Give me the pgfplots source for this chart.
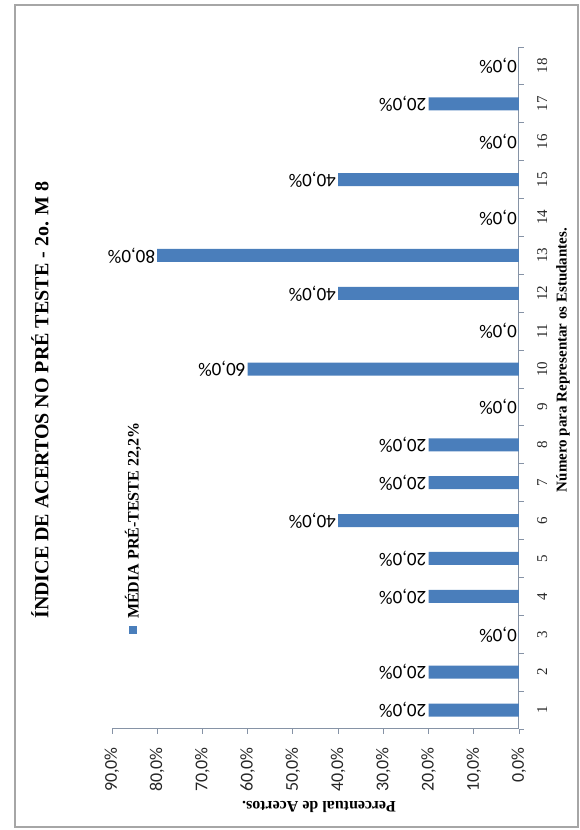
\documentclass[border=0pt]{standalone}
\usepackage{fontspec}
\setmainfont{Liberation Serif}
\newfontfamily\carlito{Carlito}
\usepackage{pgfplots}
\pgfplotsset{compat=1.18}
\definecolor{barblue}{HTML}{4A7EBB}
\definecolor{axisgray}{HTML}{8693A6}
\definecolor{framegray}{HTML}{A6A6A6}

\begin{document}
\begin{tikzpicture}[x=1pt,y=1pt]
\useasboundingbox (0,0) rectangle (579,830);
% outer frame of the figure
\draw[framegray, line width=1.5pt] (15,3) rectangle (578,825);

\begin{axis}[
  at={(315.5pt,442pt)}, anchor=center,
  scale only axis, width=407pt, height=682pt,
  xbar, bar width=13pt, x dir=reverse,
  xmin=0, xmax=90, ymin=0.5, ymax=18.5,
  clip=false,
  axis x line*=bottom, axis y line*=right,
  axis line style={axisgray, line width=1pt},
  tick align=outside, major tick length=5pt,
  every tick/.style={axisgray, line width=0.8pt},
  xtick={0,10,...,90},
  xticklabel={\pgfmathprintnumber[fixed,fixed zerofill,precision=1,use comma,assume math mode=true]{\tick}\%},
  xticklabel style={font=\carlito\fontsize{18}{18}\selectfont, text=black!85,
    yshift=-13pt, rotate=90, anchor=east, inner sep=0pt},
  ytick={0.5,1.5,...,18.5}, yticklabels={},
  extra y ticks={1,2,...,18},
  extra y tick labels={1,2,3,4,5,6,7,8,9,10,11,12,13,14,15,16,17,18},
  extra y tick style={major tick length=0pt},
  yticklabel style={font=\fontsize{15}{15}\selectfont, text=black!85,
    xshift=18pt, rotate=90, anchor=north, inner sep=0pt},
]
\addplot[fill=barblue, draw=none, point meta=x,
  nodes near coords={\pgfmathprintnumber[fixed,fixed zerofill,precision=1,use comma,assume math mode=true]{\pgfplotspointmeta}\%},
  every node near coord/.append style={font=\carlito\fontsize{19}{19}\selectfont,
    text=black, rotate=180, anchor=west, inner sep=2pt}]
coordinates {
  (20,1) (20,2) (0,3) (20,4) (20,5) (40,6) (20,7) (20,8) (0,9)
  (60,10) (0,11) (40,12) (80,13) (0,14) (40,15) (0,16) (20,17) (0,18)
};
\end{axis}

% chart title
\node[rotate=90, font=\bfseries\fontsize{20}{24}\selectfont] at (40,430)
  {ÍNDICE DE ACERTOS NO PRÉ TESTE - 2o. M 8};
% legend
\fill[barblue] (129,196) rectangle (137,204);
\node[rotate=90, anchor=west, inner sep=0pt, font=\bfseries\fontsize{16}{18}\selectfont]
  at (133,211) {MÉDIA PRÉ-TESTE 22,2\%};
% axis titles
\node[rotate=90, font=\bfseries\fontsize{15}{18}\selectfont] at (563,470)
  {Número para Representar os Estudantes.};
\node[rotate=180, font=\bfseries\fontsize{16}{18}\selectfont] at (319,23)
  {Percentual de Acertos.};
\end{tikzpicture}
\end{document}
